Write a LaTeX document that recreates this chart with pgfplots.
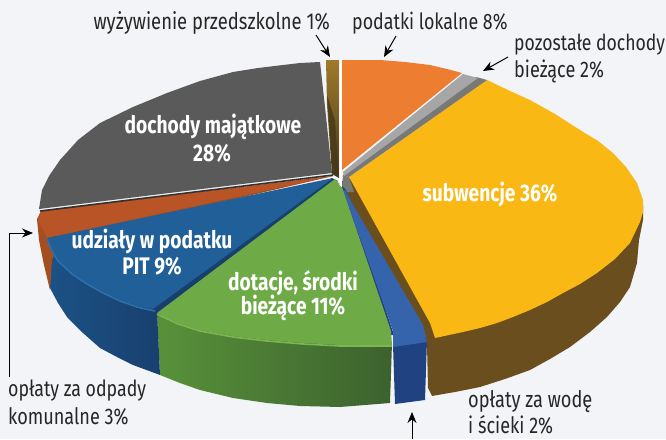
\documentclass[border=0pt]{standalone}
\usepackage{fontspec}
\setmainfont{Fira Sans}[FakeStretch=0.8]
\usepackage{pgfplots}
\pgfplotsset{compat=1.18}
\usetikzlibrary{arrows.meta}
\definecolor{bgc}{RGB}{243,244,247}
\definecolor{gry}{RGB}{90,90,90}
\definecolor{grydk}{RGB}{50,50,48}
\definecolor{org}{RGB}{237,125,49}
\definecolor{gr2}{RGB}{166,166,166}
\definecolor{gr3}{RGB}{120,120,118}
\definecolor{yel}{RGB}{250,184,20}
\definecolor{brn}{RGB}{107,78,30}
\definecolor{bluw}{RGB}{53,100,172}
\definecolor{bluwd}{RGB}{33,66,128}
\definecolor{grn}{RGB}{110,170,70}
\definecolor{grnl}{RGB}{125,182,80}
\definecolor{grnd}{RGB}{88,145,58}
\definecolor{grnk}{RGB}{60,98,46}
\definecolor{blu}{RGB}{33,95,152}
\definecolor{blul}{RGB}{48,112,170}
\definecolor{blud}{RGB}{28,82,135}
\definecolor{bluk}{RGB}{24,64,110}
\definecolor{rst}{RGB}{184,84,38}
\definecolor{rstd}{RGB}{165,78,32}
\definecolor{gld}{RGB}{160,122,42}
\definecolor{gldk}{RGB}{70,56,26}
\begin{document}
\begin{tikzpicture}
\begin{axis}[scale only axis,width=666pt,height=439pt,xmin=0,xmax=666,ymin=0,ymax=439,y dir=reverse,
  axis line style={draw=none},xtick=\empty,ytick=\empty,axis background/.style={fill=bgc},
  clip=true]
% --- sides
\addplot[fill=brn,draw=none] coordinates {(643,205)(643,220)(639,240)(637,263)(630,287)(620,302)(607,317)(590,332)(570,347)(550,359)(530,370)(505,379)(480,387)(455,392)(432,396)(428,388)(427,345)(400,335)(340,182)(350,178)(500,200)} -- cycle;
\addplot[fill=bluwd,draw=none] coordinates {(393,345)(427,340)(425,400)(395,404)} -- cycle;
\addplot[left color=grnd,right color=grnk,draw=none] coordinates {(157,313)(160,375)(180,383)(200,390)(233,398)(267,403)(300,406)(340,407)(390,403)(392,343)(340,340)} -- cycle;
\addplot[left color=blud,right color=bluk,draw=none] coordinates {(46,236)(46,255)(50,288)(58,303)(67,317)(83,333)(100,348)(117,357)(133,365)(160,375)(157,310)(100,270)} -- cycle;
\addplot[fill=rstd,draw=none] coordinates {(333,176)(41,211)(37,219)(39,240)(44,265)(50,290)(52,260)(60,240)} -- cycle;
% --- seams
\addplot[fill=bluk,draw=none] coordinates {(332,178)(338,181)(160,316)(150,310)} -- cycle;
\addplot[fill=gr3,draw=none] coordinates {(343,175)(349,177)(354,192)(346,192)(342,188)} -- cycle;
\addplot[fill=bluwd,draw=none] coordinates {(339,183)(346,190)(394,335)(389,335)} -- cycle;
% --- top faces
\addplot[fill=rst,draw=none] coordinates {(333,176)(41,212)(38,220)(47,238)} -- cycle;
\addplot[fill=blu,draw=none] coordinates {(333,178)(47,238)(52,250)(58,260)(72,273)(87,283)(103,292)(120,300)(137,306)(153,309)} -- cycle;
\addplot[fill=bluw,draw=none] coordinates {(343,190)(393,331)(393,347)(427,342)(423,325)(356,210)(345,190)} -- cycle;
\addplot[fill=grn,draw=none] coordinates {(335,179)(157,313)(178,323)(200,330)(233,336)(267,340)(303,343)(340,345)(392,345)(391,331)(342,187)} -- cycle;
\addplot[fill=yel,draw=none] coordinates {(349,177)(487,80)(510,91)(530,100)(555,114)(580,130)(598,141)(613,153)(626,167)(637,183)(643,200)(643,212)(640,222)(630,243)(615,259)(597,273)(580,284)(563,293)(547,302)(530,310)(513,317)(497,323)(480,328)(463,332)(449,335)(435,338)(430,323)} -- cycle;
\addplot[fill=gr3,draw=none] coordinates {(343,175)(476,77)(487,80)(349,177)} -- cycle;
\addplot[fill=gr2,draw=none] coordinates {(343,172)(463,74)(478,78)(344,176)} -- cycle;
\addplot[fill=org,draw=none] coordinates {(342,60)(380,60)(405,62)(430,65)(447,69)(462,73)(342,170)} -- cycle;
\addplot[fill=gry,draw=none] coordinates {(320,62)(300,63)(283,65)(258,68)(233,72)(200,81)(167,93)(133,107)(100,123)(78,140)(60,160)(49,176)(42,190)(39,209)(332,173)(325,107)} -- cycle;
\addplot[grydk,line width=1.6pt] coordinates {(40,211)(333,175)};
\addplot[top color=gld,bottom color=gldk,draw=none] coordinates {(326,60)(339,60)(339,178)(332,174)(327,105)} -- cycle;
\addplot[fill=gldk,draw=none,opacity=0.8] coordinates {(327,95)(333,174)(339,177)(335,120)} -- cycle;
\addplot[fill=white!92!bgc,draw=none] coordinates {(339.3,60)(341.8,60)(341.8,187)(339.3,185)} -- cycle;
% --- rim highlights
\addplot[grnl,line width=1.6pt] coordinates {(157,314)(178,324)(200,331)(233,337)(267,341)(303,344)(340,346)(392,346)};
\addplot[blul,line width=1.6pt] coordinates {(47,239)(52,251)(58,261)(72,274)(87,284)(103,293)(120,301)(137,307)(155,311)};
% --- arrows
\addplot[black,line width=1pt,-{Stealth[length=11pt,width=9pt]}] coordinates {(316,35)(330,57)};
\addplot[black,line width=1pt,-{Stealth[length=11pt,width=9pt]}] coordinates {(396,36)(384,57)};
\addplot[black,line width=1pt,-{Stealth[length=11pt,width=9pt]}] coordinates {(508,57)(483,71)};
\addplot[black,line width=0.8pt,-{Stealth[length=11pt,width=9pt]}] coordinates {(9,377)(9,233)(33,233)};
\addplot[black,line width=1pt,-{Stealth[length=11pt,width=9pt]}] coordinates {(412,439)(412,412)};
% --- labels
\def\lab#1{\fontsize{#1}{26}\selectfont\ignorespaces}
\def\blab{\fontsize{24}{27}\selectfont\bfseries}
\node[anchor=east,inner sep=0,text=black!85] at (axis cs:330,23) {\lab{23} wyżywienie przedszkolne 1\%};
\node[anchor=west,inner sep=0,text=black!85] at (axis cs:352,23) {\lab{22.3} podatki lokalne 8\%};
\node[anchor=west,inner sep=0,text=black!85] at (axis cs:514,45) {\lab{22} pozostałe dochody};
\node[anchor=west,inner sep=0,text=black!85] at (axis cs:514,71) {\lab{22.6} bieżące 2\%};
\node[anchor=west,inner sep=0,text=black!85] at (axis cs:8,391) {\lab{22.2} opłaty za odpady};
\node[anchor=west,inner sep=0,text=black!85] at (axis cs:8,416) {\lab{22.6} komunalne 3\%};
\node[anchor=west,inner sep=0,text=black!85] at (axis cs:468,402) {\lab{22.8} opłaty za wodę};
\node[anchor=west,inner sep=0,text=black!85] at (axis cs:468,425) {\lab{22.6} i ścieki 2\%};
\node[inner sep=0,text=white] at (axis cs:213,127) {\blab dochody majątkowe};
\node[inner sep=0,text=white] at (axis cs:212,153) {\blab 28\%};
\node[inner sep=0,text=white] at (axis cs:490,194) {\blab subwencje 36\%};
\node[inner sep=0,text=white] at (axis cs:152,241) {\blab udziały w podatku};
\node[inner sep=0,text=white] at (axis cs:152,266) {\blab PIT 9\%};
\node[inner sep=0,text=white] at (axis cs:293,283) {\blab dotacje, środki};
\node[inner sep=0,text=white] at (axis cs:293,308) {\blab bieżące 11\%};
\end{axis}
\end{tikzpicture}
\end{document}
